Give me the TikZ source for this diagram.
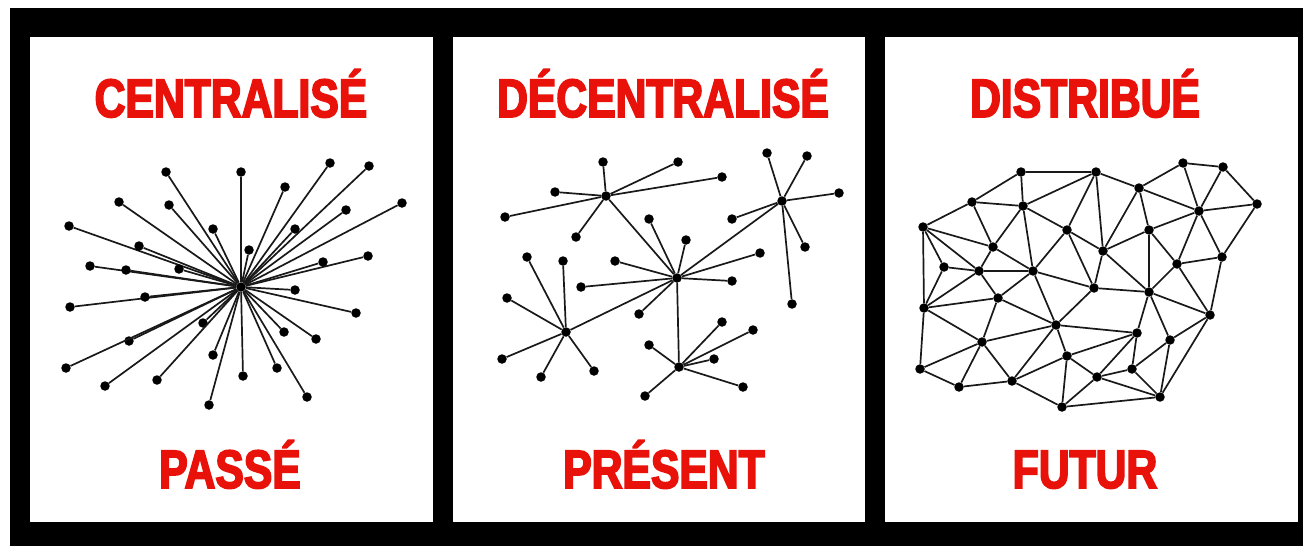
\documentclass[tikz,border=0pt]{standalone}
\usepackage{fontspec}
\newfontfamily\headfont{Liberation Sans Bold}[FakeStretch=0.79,FakeBold=3.2]
\definecolor{headred}{RGB}{232,18,10}
\begin{document}
\begin{tikzpicture}[x=1pt,y=-1pt,
  dot/.style={circle,fill=black,inner sep=0pt,minimum size=9.5pt},
  link/.style={draw=black!90,line width=1.7pt},
  head/.style={anchor=base,text=headred,inner sep=0pt,
    font=\headfont\fontsize{54}{54}\selectfont}]
\useasboundingbox (0,0) rectangle (1303,546);
% frame and the three panels
\fill[white] (0,0) rectangle (1303,546);
\fill[black] (10,8) rectangle (1303,546);
\fill[white] (30,37) rectangle (433,522);
\fill[white] (453,37) rectangle (865,522);
\fill[white] (885,37) rectangle (1298,522);

% headings
\node[head] (t1) at (231,117) {CENTRALISÉ};
\node[head] (t2) at (663,117) {DÉCENTRALISÉ};
\node[head] (t3) at (1085,117) {DISTRIBUÉ};
\node[head] (b1) at (230,488) {PASSÉ};
\node[head] (b2) at (664,488) {PRÉSENT};
\node[head] (b3) at (1085,488) {FUTUR};

% centralised: one hub, every node tied to it
\node[dot] (c0) at (241,287) {};
\foreach \x/\y [count=\i] in {
  166/172, 241/172, 330/163, 369/166, 285/187, 119/202, 169/205, 402/203,
  346/210, 69/226, 213/229, 295/229, 139/246, 249/250, 90/266, 126/270,
  179/269, 368/256, 323/262, 295/290, 70/307, 145/297, 356/313, 203/323,
  284/332, 316/339, 129/341, 213/355, 66/368, 277/368, 243/376, 157/380,
  105/386, 307/397, 209/405} {
  \node[dot] (c\i) at (\x,\y) {};
  \draw[link] (c0) -- (c\i);
}

% decentralised: five hubs, each with its own leaves
\node[dot] (ha) at (606,196) {};
\node[dot] (hb) at (677,278) {};
\node[dot] (hc) at (782,201) {};
\node[dot] (hd) at (566,332) {};
\node[dot] (he) at (679,367) {};
\foreach \h in {ha,hc,hd,he} \draw[link] (hb) -- (\h);
\foreach \x/\y [count=\i] in {603/162, 678/162, 722/177, 555/192, 505/217, 576/237} {
  \node[dot] (la\i) at (\x,\y) {}; \draw[link] (ha) -- (la\i);
}
\foreach \x/\y [count=\i] in {649/219, 686/240, 615/261, 760/253, 732/281, 581/287, 639/314} {
  \node[dot] (lb\i) at (\x,\y) {}; \draw[link] (hb) -- (lb\i);
}
\foreach \x/\y [count=\i] in {767/153, 807/156, 839/193, 732/219, 805/247, 792/304} {
  \node[dot] (lc\i) at (\x,\y) {}; \draw[link] (hc) -- (lc\i);
}
\foreach \x/\y [count=\i] in {527/257, 563/261, 507/298, 502/359, 541/377, 594/371} {
  \node[dot] (ld\i) at (\x,\y) {}; \draw[link] (hd) -- (ld\i);
}
\foreach \x/\y [count=\i] in {649/345, 722/322, 753/330, 714/359, 743/387, 645/396} {
  \node[dot] (le\i) at (\x,\y) {}; \draw[link] (he) -- (le\i);
}

% distributed: a mesh
\foreach \x/\y [count=\i] in {
  1021/172, 1096/172, 1183/163, 1223/167, 1139/188, 972/202, 1023/206,
  1257/204, 1199/211, 923/227, 1067/230, 1149/230, 993/247, 1103/251,
  1222/257, 944/267, 979/271, 1033/271, 1177/264, 1094/288, 1149/292,
  998/298, 924/308, 1210/315, 1056/325, 1137/333, 1170/340, 982/342,
  1067/356, 1132/369, 920/369, 1097/377, 1012/381, 959/387, 1160/397,
  1062/407} {
  \node[dot] (n\i) at (\x,\y) {};
}
\foreach \a/\b in {
  1/2, 1/6, 1/7, 2/7, 2/11, 2/14, 2/5, 5/3, 3/4, 3/9, 4/9, 4/8, 8/9, 5/9,
  5/12, 5/14, 6/10, 6/7, 6/13, 7/13, 7/11, 7/18, 9/12, 9/19, 8/15, 9/15,
  12/14, 12/19, 12/21, 15/19, 15/24, 10/13, 10/17, 10/16, 10/23, 13/17,
  13/18, 11/18, 11/14, 11/20, 14/20, 14/21, 16/17, 16/23, 17/18, 17/22,
  17/23, 18/22, 18/25, 18/20, 19/21, 19/24, 20/21, 20/25, 21/24, 21/26,
  21/27, 22/23, 22/25, 22/28, 23/28, 23/31, 24/27, 24/35, 25/26, 25/29,
  25/33, 26/29, 26/30, 26/32, 27/30, 27/35, 28/31, 28/34, 28/33, 29/33,
  29/32, 29/36, 30/32, 30/35, 31/34, 32/35, 32/36, 33/34, 33/36, 36/35,
  28/25} {
  \draw[link] (n\a) -- (n\b);
}
\end{tikzpicture}
\end{document}
